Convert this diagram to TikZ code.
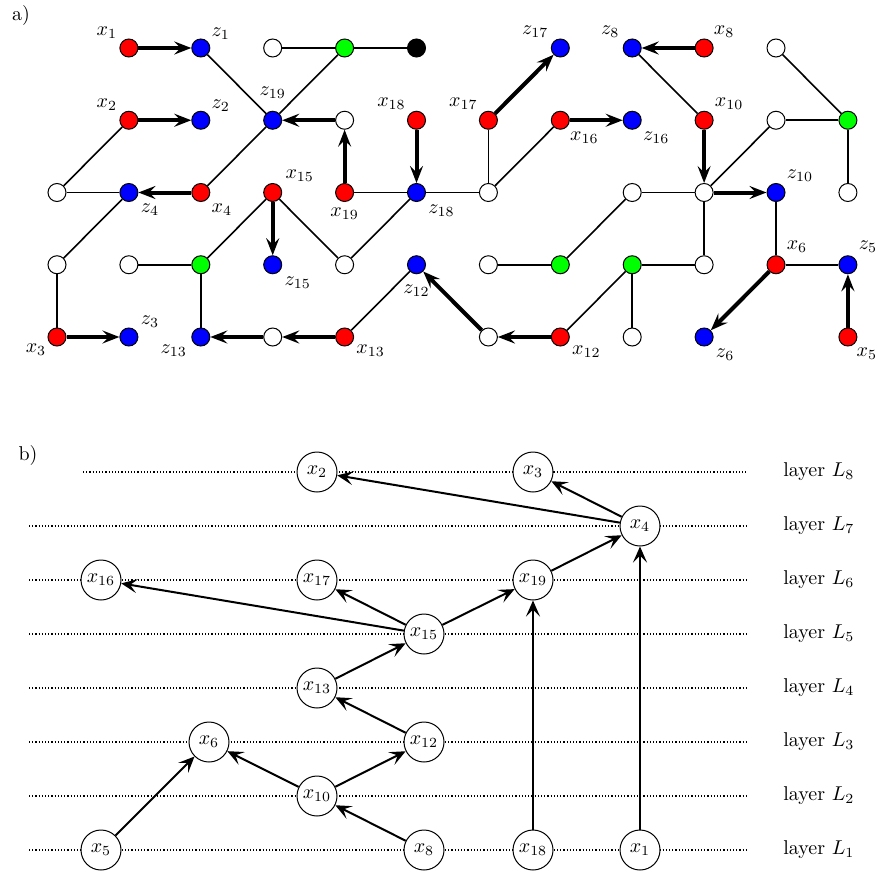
\documentclass[tikz,border=0pt]{standalone}
\usetikzlibrary{arrows.meta,calc}
\begin{document}
\begin{tikzpicture}[x=0.5pt,y=-0.5pt,
  gv/.style={circle,draw,line width=0.5pt,minimum size=9pt,inner sep=0pt},
  wv/.style={gv,fill=white},
  rv/.style={gv,fill=red},
  bv/.style={gv,fill=blue},
  gnv/.style={gv,fill=green},
  kv/.style={gv,fill=black},
  lab/.style={inner sep=0pt},
  edge/.style={line width=0.8pt},
  match/.style={line width=2pt,-{Stealth[length=8.5pt,width=6.5pt,inset=3.2pt]}},
  lv/.style={circle,draw,fill=white,line width=0.5pt,minimum size=20pt,inner sep=0.5pt},
  larr/.style={line width=1pt,-{Stealth[length=8pt,width=7pt,inset=3.5pt]}},
  layerline/.style={densely dotted,line width=0.6pt},
  ]
\useasboundingbox (0,0) rectangle (877,872);
\newcommand\vtx[4]{\node[#1] (#2) at ({57+71.9*#3},{48+72.25*#4}) {};}
\newcommand\vlab[4]{\node[lab] (#1l) at ($(#1)+(#2,#3)$) {$#4$};}

\node[lab] (alabel) at (21,16) {a)};
\node[lab] (blabel) at (28,455) {b)};

% ---------- part a: vertices
\vtx{rv}{x1}{1}{0} \vtx{bv}{z1}{2}{0} \vtx{wv}{w30}{3}{0} \vtx{gnv}{g40}{4}{0}
\vtx{kv}{k50}{5}{0} \vtx{bv}{z17}{7}{0} \vtx{bv}{z8}{8}{0} \vtx{rv}{x8}{9}{0}
\vtx{wv}{w100}{10}{0}
\vtx{rv}{x2}{1}{1} \vtx{bv}{z2}{2}{1} \vtx{bv}{z19}{3}{1} \vtx{wv}{w41}{4}{1}
\vtx{rv}{x18}{5}{1} \vtx{rv}{x17}{6}{1} \vtx{rv}{x16}{7}{1} \vtx{bv}{z16}{8}{1}
\vtx{rv}{x10}{9}{1} \vtx{wv}{w101}{10}{1} \vtx{gnv}{g111}{11}{1}
\vtx{wv}{w02}{0}{2} \vtx{bv}{z4}{1}{2} \vtx{rv}{x4}{2}{2} \vtx{rv}{x15}{3}{2}
\vtx{rv}{x19}{4}{2} \vtx{bv}{z18}{5}{2} \vtx{wv}{w62}{6}{2} \vtx{wv}{w82}{8}{2}
\vtx{wv}{w92}{9}{2} \vtx{bv}{z10}{10}{2} \vtx{wv}{w112}{11}{2}
\vtx{wv}{w03}{0}{3} \vtx{wv}{w13}{1}{3} \vtx{gnv}{g23}{2}{3} \vtx{bv}{z15}{3}{3}
\vtx{wv}{w43}{4}{3} \vtx{bv}{z12}{5}{3} \vtx{wv}{w63}{6}{3} \vtx{gnv}{g73}{7}{3}
\vtx{gnv}{g83}{8}{3} \vtx{wv}{w93}{9}{3} \vtx{rv}{x6}{10}{3} \vtx{bv}{z5}{11}{3}
\vtx{rv}{x3}{0}{4} \vtx{bv}{z3}{1}{4} \vtx{bv}{z13}{2}{4} \vtx{wv}{w34}{3}{4}
\vtx{rv}{x13}{4}{4} \vtx{wv}{w64}{6}{4} \vtx{rv}{x12}{7}{4} \vtx{wv}{w84}{8}{4}
\vtx{bv}{z6}{9}{4} \vtx{rv}{x5}{11}{4}

% ---------- part a: labels
\vlab{x1}{-22}{-15}{x_1} \vlab{z1}{20}{-14}{z_1} \vlab{z17}{-25}{-16}{z_{17}}
\vlab{z8}{-22}{-16}{z_8} \vlab{x8}{20}{-16}{x_8}
\vlab{x2}{-22}{-16}{x_2} \vlab{z2}{20}{-15}{z_2} \vlab{z19}{0}{-28}{z_{19}}
\vlab{x18}{-25}{-17}{x_{18}} \vlab{x17}{-25}{-17}{x_{17}} \vlab{x16}{24}{17}{x_{16}}
\vlab{z16}{24}{17}{z_{16}} \vlab{x10}{25}{-17}{x_{10}}
\vlab{z4}{21}{17}{z_4} \vlab{x4}{21}{17}{x_4} \vlab{x15}{27}{-17}{x_{15}}
\vlab{x19}{0}{21}{x_{19}} \vlab{z18}{25}{18}{z_{18}} \vlab{z10}{24}{-17}{z_{10}}
\vlab{z15}{25}{18}{z_{15}} \vlab{z12}{0}{26}{z_{12}} \vlab{x6}{21}{-18}{x_6}
\vlab{z5}{20}{-18}{z_5}
\vlab{x3}{-21}{13}{x_3} \vlab{z3}{21}{-15}{z_3} \vlab{z13}{-27}{14}{z_{13}}
\vlab{x13}{26}{14}{x_{13}} \vlab{x12}{26}{15}{x_{12}} \vlab{z6}{21}{18}{z_6}
\vlab{x5}{19}{17}{x_5}

% ---------- part a: thin edges
\draw[edge] (z1) -- (z19);
\draw[edge] (w30) -- (g40);
\draw[edge] (g40) -- (k50);
\draw[edge] (g40) -- (z19);
\draw[edge] (x2) -- (w02);
\draw[edge] (w02) -- (z4);
\draw[edge] (z19) -- (x4);
\draw[edge] (z4) -- (w03);
\draw[edge] (w03) -- (x3);
\draw[edge] (x15) -- (g23);
\draw[edge] (x15) -- (w43);
\draw[edge] (w43) -- (z18);
\draw[edge] (x19) -- (z18);
\draw[edge] (z18) -- (w62);
\draw[edge] (w62) -- (x17);
\draw[edge] (w62) -- (x16);
\draw[edge] (w13) -- (g23);
\draw[edge] (g23) -- (z13);
\draw[edge] (x13) -- (z12);
\draw[edge] (w63) -- (g73);
\draw[edge] (g73) -- (w82);
\draw[edge] (w82) -- (w92);
\draw[edge] (x12) -- (g83);
\draw[edge] (g83) -- (w84);
\draw[edge] (g83) -- (w93);
\draw[edge] (w92) -- (w93);
\draw[edge] (w92) -- (w101);
\draw[edge] (w101) -- (g111);
\draw[edge] (w100) -- (g111);
\draw[edge] (g111) -- (w112);
\draw[edge] (z8) -- (x10);
\draw[edge] (z10) -- (x6);
\draw[edge] (x6) -- (z5);

% ---------- part a: thick arrows
\draw[match] (x1) -- (z1);
\draw[match] (x2) -- (z2);
\draw[match] (x4) -- (z4);
\draw[match] (w41) -- (z19);
\draw[match] (x19) -- (w41);
\draw[match] (x18) -- (z18);
\draw[match] (x17) -- (z17);
\draw[match] (x16) -- (z16);
\draw[match] (x8) -- (z8);
\draw[match] (x10) -- (w92);
\draw[match] (w92) -- (z10);
\draw[match] (x15) -- (z15);
\draw[match] (x3) -- (z3);
\draw[match] (w34) -- (z13);
\draw[match] (x13) -- (w34);
\draw[match] (w64) -- (z12);
\draw[match] (x12) -- (w64);
\draw[match] (x6) -- (z6);
\draw[match] (x5) -- (z5);

% ---------- part b: layer lines
\coordinate (l8a) at (83,472);  \coordinate (l8b) at (746,472);
\coordinate (l7a) at (29,526);  \coordinate (l7b) at (746,526);
\coordinate (l6a) at (29,580);  \coordinate (l6b) at (746,580);
\coordinate (l5a) at (29,634);  \coordinate (l5b) at (746,634);
\coordinate (l4a) at (29,688);  \coordinate (l4b) at (746,688);
\coordinate (l3a) at (29,742);  \coordinate (l3b) at (746,742);
\coordinate (l2a) at (29,796);  \coordinate (l2b) at (746,796);
\coordinate (l1a) at (29,850);  \coordinate (l1b) at (746,850);
\foreach \k in {1,...,8} {\draw[layerline] (l\k a) -- (l\k b);}

\foreach \k/\yy in {8/472,7/526,6/580,5/634,4/688,3/742,2/796,1/850}
  {\node[lab,anchor=west] (layer\k) at (783,\yy) {layer $L_{\k}$};}

% ---------- part b: nodes
\node[lv] (b2)  at (317,472) {$x_2$};
\node[lv] (b3)  at (533,472) {$x_3$};
\node[lv] (b4)  at (640,526) {$x_4$};
\node[lv] (b16) at (101,580) {$x_{16}$};
\node[lv] (b17) at (317,580) {$x_{17}$};
\node[lv] (b19) at (533,580) {$x_{19}$};
\node[lv] (b15) at (424,634) {$x_{15}$};
\node[lv] (b13) at (317,688) {$x_{13}$};
\node[lv] (b6)  at (209,742) {$x_6$};
\node[lv] (b12) at (424,742) {$x_{12}$};
\node[lv] (b10) at (317,796) {$x_{10}$};
\node[lv] (b5)  at (101,850) {$x_5$};
\node[lv] (b8)  at (424,850) {$x_8$};
\node[lv] (b18) at (533,850) {$x_{18}$};
\node[lv] (b1)  at (640,850) {$x_1$};

% ---------- part b: arrows
\draw[larr] (b4) -- (b2);
\draw[larr] (b4) -- (b3);
\draw[larr] (b19) -- (b4);
\draw[larr] (b1) -- (b4);
\draw[larr] (b15) -- (b16);
\draw[larr] (b15) -- (b17);
\draw[larr] (b15) -- (b19);
\draw[larr] (b18) -- (b19);
\draw[larr] (b13) -- (b15);
\draw[larr] (b12) -- (b13);
\draw[larr] (b10) -- (b6);
\draw[larr] (b10) -- (b12);
\draw[larr] (b5) -- (b6);
\draw[larr] (b8) -- (b10);
\end{tikzpicture}
\end{document}
